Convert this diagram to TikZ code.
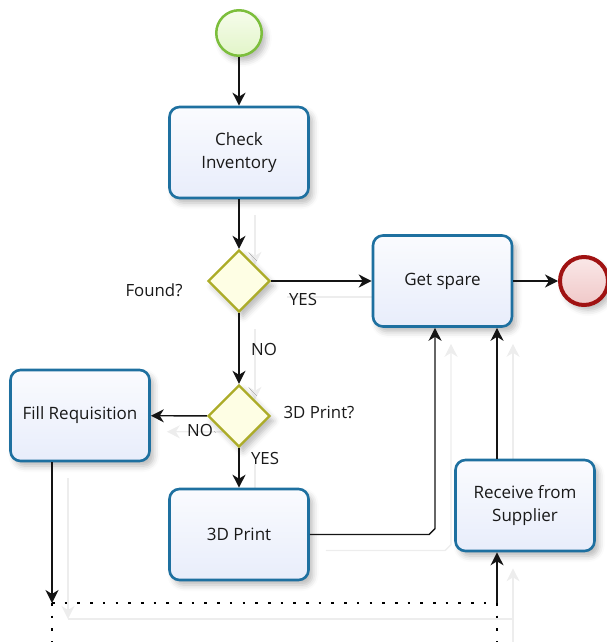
\documentclass[tikz,border=0pt]{standalone}
\usepackage{fontspec}
\setmainfont{Open Sans}
\usetikzlibrary{arrows.meta,shapes.geometric,shadows.blur}
\pgfdeclarelayer{background}
\pgfsetlayers{background,main}
\definecolor{taskborder}{RGB}{30,112,160}
\definecolor{tasktop}{RGB}{250,251,254}
\definecolor{taskbot}{RGB}{232,237,251}
\definecolor{gwborder}{RGB}{172,172,40}
\definecolor{gwfill}{RGB}{254,254,228}
\definecolor{startborder}{RGB}{124,190,60}
\definecolor{starttop}{RGB}{246,252,236}
\definecolor{startbot}{RGB}{226,245,200}
\definecolor{endborder}{RGB}{160,18,18}
\definecolor{endtop}{RGB}{250,232,232}
\definecolor{endbot}{RGB}{240,200,200}
\definecolor{txt}{RGB}{25,25,25}
\definecolor{ghostc}{RGB}{237,237,237}
\tikzset{
  shad/.style={blur shadow={shadow xshift=4pt, shadow yshift=-5pt, shadow blur radius=6pt, shadow opacity=28}},
  task/.style={rectangle, rounded corners=10pt, draw=taskborder, line width=2.6pt,
    top color=tasktop, bottom color=taskbot, minimum width=139pt, minimum height=91pt,
    align=center, font=\fontsize{17}{22.5}\selectfont, text=txt, shad},
  gateway/.style={diamond, aspect=1, draw=gwborder, line width=2.4pt, fill=gwfill,
    minimum width=62pt, minimum height=62pt, inner sep=0pt, shad},
  startev/.style={circle, draw=startborder, line width=2.5pt, top color=starttop, bottom color=startbot,
    minimum size=45.5pt, inner sep=0pt, shad},
  endev/.style={circle, draw=endborder, line width=4pt, top color=endtop, bottom color=endbot,
    minimum size=48pt, inner sep=0pt, shad},
  lbl/.style={font=\fontsize{16.8}{20}\selectfont, text=txt, inner sep=0pt},
  flow/.style={line width=1.4pt, draw=black!92, -{Stealth[length=13pt,width=13pt,inset=4pt]}},
  gflow/.style={flow, draw=ghostc},
  msg/.style={line width=2.6pt, draw=black, dash pattern=on 2.6pt off 10.1pt},
  gline/.style={line width=1.4pt, draw=ghostc},
}
\begin{document}
\begin{tikzpicture}[x=1pt,y=-1pt]
\useasboundingbox (0,0) rectangle (606,642);
% nodes
\node[startev] (start) at (239,33) {};
\node[task] (check) at (239,152.5) {Check\\Inventory};
\node[gateway] (found) at (239,281) {};
\node[lbl] (foundl) at (154,290) {Found?};
\node[task] (spare) at (442.5,281) {Get spare};
\node[endev] (stop) at (584,281) {};
\node[gateway] (dp) at (239,416) {};
\node[lbl] (dpl) at (319,412) {3D Print?};
\node[task] (fill) at (80,415.5) {Fill Requisition};
\node[task] (print) at (239,534.5) {3D Print};
\node[task] (recv) at (525,505.5) {Receive from\\Supplier};
% edge labels
\node[lbl] (yes1) at (303,299) {YES};
\node[lbl] (no1) at (264,349) {NO};
\node[lbl] (no2) at (200,430) {NO};
\node[lbl] (yes2) at (265,458) {YES};
% helper coordinates
\coordinate (k1) at (429,534.5);
\coordinate (k2) at (435,528.5);
\coordinate (rx) at (497,0);
\coordinate (fx) at (52,0);
\coordinate (dl) at (52,603);
\coordinate (dr) at (497,603);
\coordinate (bl) at (52,642);
\coordinate (br) at (497,642);
% connectors
\draw[flow] (start) -- (check);
\draw[flow] (check) -- (found);
\draw[flow] (found) -- (spare);
\draw[flow] (spare) -- (stop);
\draw[flow] (found) -- (dp);
\draw[flow] (dp) -- (fill);
\draw[flow] (dp) -- (print);
\draw[flow] (print.east) -- (k1) -- (k2) -- (k2 |- spare.south);
\draw[flow] (rx |- recv.north) -- (rx |- spare.south);
\draw[flow] (fx |- fill.south) -- (dl);
\draw[msg] (dl) -- (dr);
\draw[msg] (dl) -- (bl);
\draw[msg] (dr) -- (br);
\draw[flow] (dr) -- (recv.south -| dr);
% faint connector shadows
\begin{pgfonlayer}{background}
\begin{scope}[transform canvas={shift={(16pt,-16pt)}}]
\draw[gflow] (check) -- (found);
\draw[gflow] (found) -- (spare);
\draw[gflow] (found) -- (dp);
\draw[gflow] (dp) -- (fill);
\draw[gflow] (dp) -- (print);
\draw[gflow] (print.east) -- (k1) -- (k2) -- (k2 |- spare.south);
\draw[gflow] (rx |- recv.north) -- (rx |- spare.south);
\draw[gflow] (fx |- fill.south) -- (dl);
\draw[gline] (dl) -- (dr);
\draw[gline] (dr) -- (br);
\draw[gflow] (dr) -- (recv.south -| dr);
\end{scope}
\end{pgfonlayer}
\end{tikzpicture}
\end{document}
